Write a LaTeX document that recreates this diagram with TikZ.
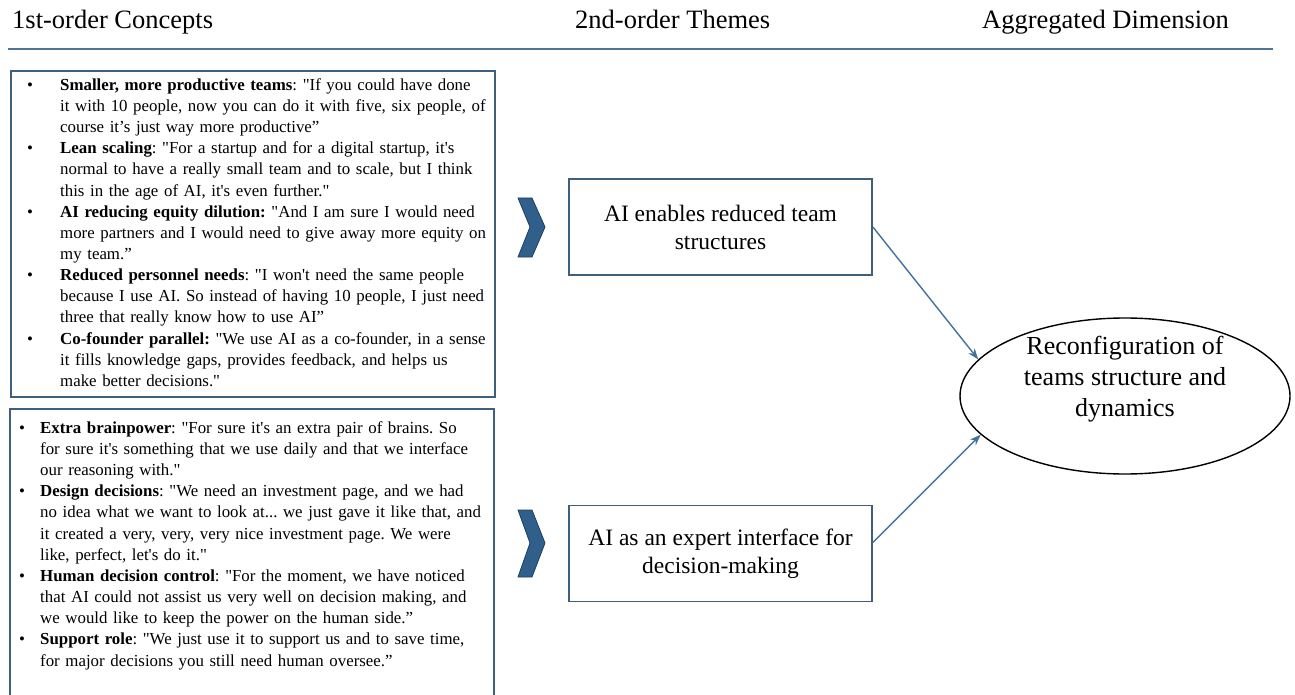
\documentclass[tikz,border=0pt]{standalone}
\usepackage{fontspec}
\setmainfont{Liberation Serif}[Ligatures=TeXOff]
\usetikzlibrary{shapes.geometric,arrows.meta}

\definecolor{rulecol}{HTML}{4F7497}
\definecolor{framecol}{HTML}{3F5F7D}
\definecolor{chevfill}{HTML}{2F5F8A}
\definecolor{chevline}{HTML}{1F3F5F}
\definecolor{arrowcol}{HTML}{41719C}

\newlength\bulletpos
\newlength\textpos
% one bullet entry: bold lead-in, then the quote
\newcommand\quoteitem[2]{\par\noindent\hangindent=\textpos\hangafter=1%
  \makebox[\textpos][l]{\hspace*{\bulletpos}•}\textbf{#1}#2}

\tikzset{
  header/.style={anchor=base west, inner sep=0pt, font=\fontsize{26.5}{30}\selectfont},
  framebox/.style={draw=framecol, line width=1.8pt},
  quotes/.style={anchor=north west, inner sep=0pt, text width=482pt, align=left,
    font=\fontsize{16.85}{21.15}\selectfont\frenchspacing},
  themebox/.style={draw=framecol, line width=1.8pt, minimum width=303pt, minimum height=96pt,
    align=center, inner sep=0pt, font=\fontsize{23.5}{28}\selectfont},
  chevron/.style={fill=chevfill, draw=chevline, line width=0.8pt, line join=miter},
  link/.style={draw=arrowcol, line width=1.4pt, -{Stealth[length=11pt,width=8pt]}},
}

\begin{document}
\begin{tikzpicture}[x=1pt, y=-1pt]
\useasboundingbox (0,0) rectangle (1295,695);

% column headings and rule
\node[header] (h1) at (12,29) {1st-order Concepts};
\node[header] (h2) at (575,29) {2nd-order Themes};
\node[header] (h3) at (982,29) {Aggregated Dimension};
\coordinate (r1) at (8,49);
\coordinate (r2) at (1273,49);
\draw[rulecol, line width=2.4pt] (r1) -- (r2);

% first group of concepts
\node[framebox, anchor=north west, minimum width=484pt, minimum height=326pt] (c1) at (10,70) {};
\node[quotes] (c1text) at (10,69) {%
\setlength\bulletpos{17pt}\setlength\textpos{50pt}%
\quoteitem{Smaller, more productive teams}{: "If you could have done\newline it with 10 people, now you can do it with five, six people, of\newline course it’s just way more productive”}
\quoteitem{Lean scaling}{: "For a startup and for a digital startup, it's\newline normal to have a really small team and to scale, but I think\newline this in the age of AI, it's even further."}
\quoteitem{AI reducing equity dilution:}{ "And I am sure I would need\newline more partners and I would need to give away more equity on\newline my team.”}
\quoteitem{Reduced personnel needs}{: "I won't need the same people\newline because I use AI. So instead of having 10 people, I just need\newline three that really know how to use AI”}
\quoteitem{Co-founder parallel:}{ "We use AI as a co-founder, in a sense\newline it fills knowledge gaps, provides feedback, and helps us\newline make better decisions."}\par};

% second group of concepts (frame runs past the lower edge)
\coordinate (b1) at (10,698);
\coordinate (b2) at (10,409);
\coordinate (b3) at (494,409);
\coordinate (b4) at (494,698);
\draw[framebox] (b1) -- (b2) -- (b3) -- (b4);
\node[quotes] (c2text) at (10,412) {%
\setlength\bulletpos{9pt}\setlength\textpos{30pt}%
\quoteitem{Extra brainpower}{: "For sure it's an extra pair of brains. So\newline for sure it's something that we use daily and that we interface\newline our reasoning with."}
\quoteitem{Design decisions}{: "We need an investment page, and we had\newline no idea what we want to look at... we just gave it like that, and\newline it created a very, very, very nice investment page. We were\newline like, perfect, let's do it."}
\quoteitem{Human decision control}{: "For the moment, we have noticed\newline that AI could not assist us very well on decision making, and\newline we would like to keep the power on the human side.”}
\quoteitem{Support role}{: "We just use it to support us and to save time,\newline for major decisions you still need human oversee.”}\par};

% chevrons
\draw[chevron] (518,198) -- (532,198) -- (545,227) -- (532,257) -- (518,257) -- (530,227) -- cycle;
\draw[chevron] (518,510) -- (532,510) -- (545,543) -- (532,577) -- (518,577) -- (530,543) -- cycle;

% themes
\node[themebox] (t1) at (720.5,227) {AI enables reduced team\\structures};
\node[themebox] (t2) at (720.5,553.5) {AI as an expert interface for\\decision-making};

% aggregated dimension
\node[ellipse, draw=black, line width=1.4pt, minimum width=330pt, minimum height=156pt, inner sep=0pt] (dim) at (1125,396) {};
\node[align=center, inner sep=0pt, font=\fontsize{26}{31}\selectfont] (dimtext) at (1125,379)
  {Reconfiguration of\\teams structure and\\dynamics};

\draw[link] (t1.east) -- (dim.166);
\draw[link] ([yshift=11pt]t2.east) -- (dim.195);
\end{tikzpicture}
\end{document}
